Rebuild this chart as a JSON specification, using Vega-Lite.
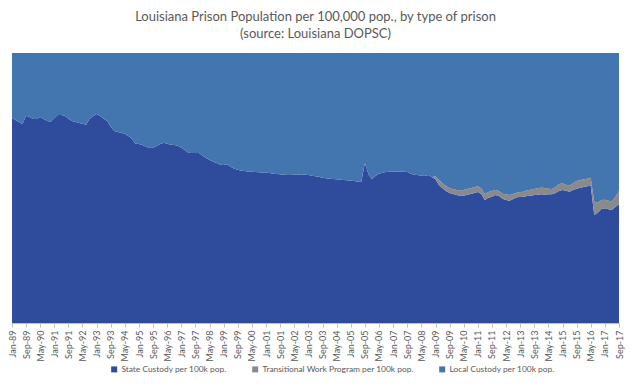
{
  "$schema": "https://vega.github.io/schema/vega-lite/v6.json",
  "autosize": "none",
  "width": 607,
  "height": 270,
  "padding": {"left": 12, "top": 53, "right": 11, "bottom": 62},
  "background": "white",
  "config": {"view": {"stroke": null}, "font": "Lato"},
  "title": {
    "text": ["Louisiana Prison Population per 100,000 pop., by type of prison", "(source: Louisiana DOPSC)"],
    "fontSize": 13,
    "fontWeight": "normal",
    "color": "#595959",
    "font": "Lato",
    "anchor": "middle",
    "lineHeight": 17,
    "offset": 12
  },
  "data": {"values": [
    {"d":"1989-01","a":615,"b":0,"c":195},{"d":"1989-03","a":609,"b":0,"c":201},{"d":"1989-05","a":603,"b":0,"c":207},{"d":"1989-07","a":597,"b":0,"c":213},{"d":"1989-09","a":622,"b":0,"c":188},{"d":"1989-11","a":618,"b":0,"c":192},
    {"d":"1990-01","a":612,"b":0,"c":198},{"d":"1990-03","a":612,"b":0,"c":198},{"d":"1990-05","a":618,"b":0,"c":192},{"d":"1990-07","a":612,"b":0,"c":198},{"d":"1990-09","a":606,"b":0,"c":204},{"d":"1990-11","a":604,"b":0,"c":206},
    {"d":"1991-01","a":615,"b":0,"c":195},{"d":"1991-03","a":624,"b":0,"c":186},{"d":"1991-05","a":624,"b":0,"c":186},{"d":"1991-07","a":622,"b":0,"c":188},{"d":"1991-09","a":613,"b":0,"c":197},{"d":"1991-11","a":606,"b":0,"c":204},
    {"d":"1992-01","a":603,"b":0,"c":207},{"d":"1992-03","a":600,"b":0,"c":210},{"d":"1992-05","a":598,"b":0,"c":212},{"d":"1992-07","a":595,"b":0,"c":215},{"d":"1992-09","a":613,"b":0,"c":197},{"d":"1992-11","a":621,"b":0,"c":189},
    {"d":"1993-01","a":627,"b":0,"c":183},{"d":"1993-03","a":621,"b":0,"c":189},{"d":"1993-05","a":613,"b":0,"c":197},{"d":"1993-07","a":606,"b":0,"c":204},{"d":"1993-09","a":588,"b":0,"c":222},{"d":"1993-11","a":576,"b":0,"c":234},
    {"d":"1994-01","a":573,"b":0,"c":237},{"d":"1994-03","a":571,"b":0,"c":239},{"d":"1994-05","a":567,"b":0,"c":243},{"d":"1994-07","a":561,"b":0,"c":249},{"d":"1994-09","a":552,"b":0,"c":258},{"d":"1994-11","a":538,"b":0,"c":272},
    {"d":"1995-01","a":537,"b":0,"c":273},{"d":"1995-03","a":534,"b":0,"c":276},{"d":"1995-05","a":529,"b":0,"c":281},{"d":"1995-07","a":525,"b":0,"c":285},{"d":"1995-09","a":526,"b":0,"c":284},{"d":"1995-11","a":531,"b":0,"c":279},
    {"d":"1996-01","a":537,"b":0,"c":273},{"d":"1996-03","a":541,"b":0,"c":269},{"d":"1996-05","a":538,"b":0,"c":272},{"d":"1996-07","a":535,"b":0,"c":275},{"d":"1996-09","a":534,"b":0,"c":276},{"d":"1996-11","a":532,"b":0,"c":278},
    {"d":"1997-01","a":526,"b":0,"c":284},{"d":"1997-03","a":519,"b":0,"c":291},{"d":"1997-05","a":511,"b":0,"c":299},{"d":"1997-07","a":510,"b":0,"c":300},{"d":"1997-09","a":510,"b":0,"c":300},{"d":"1997-11","a":510,"b":0,"c":300},
    {"d":"1998-01","a":502,"b":0,"c":308},{"d":"1998-03","a":495,"b":0,"c":315},{"d":"1998-05","a":489,"b":0,"c":321},{"d":"1998-07","a":484,"b":0,"c":326},{"d":"1998-09","a":480,"b":0,"c":330},{"d":"1998-11","a":475,"b":0,"c":335},
    {"d":"1999-01","a":474,"b":0,"c":336},{"d":"1999-03","a":476,"b":0,"c":334},{"d":"1999-05","a":469,"b":0,"c":341},{"d":"1999-07","a":463,"b":0,"c":347},{"d":"1999-09","a":460,"b":0,"c":350},{"d":"1999-11","a":457,"b":0,"c":353},
    {"d":"2000-01","a":456,"b":0,"c":354},{"d":"2000-03","a":454,"b":0,"c":356},{"d":"2000-05","a":454,"b":0,"c":356},{"d":"2000-07","a":453,"b":0,"c":357},{"d":"2000-09","a":452,"b":0,"c":358},{"d":"2000-11","a":451,"b":0,"c":359},
    {"d":"2001-01","a":451,"b":0,"c":359},{"d":"2001-03","a":450,"b":0,"c":360},{"d":"2001-05","a":448,"b":0,"c":362},{"d":"2001-07","a":447,"b":0,"c":363},{"d":"2001-09","a":446,"b":0,"c":364},{"d":"2001-11","a":445,"b":0,"c":365},
    {"d":"2002-01","a":444,"b":0,"c":366},{"d":"2002-03","a":444,"b":0,"c":366},{"d":"2002-05","a":445,"b":0,"c":365},{"d":"2002-07","a":445,"b":0,"c":365},{"d":"2002-09","a":446,"b":0,"c":364},{"d":"2002-11","a":445,"b":0,"c":365},
    {"d":"2003-01","a":444,"b":0,"c":366},{"d":"2003-03","a":442,"b":0,"c":368},{"d":"2003-05","a":440,"b":0,"c":370},{"d":"2003-07","a":439,"b":0,"c":371},{"d":"2003-09","a":436,"b":0,"c":374},{"d":"2003-11","a":434,"b":0,"c":376},
    {"d":"2004-01","a":433,"b":0,"c":377},{"d":"2004-03","a":432,"b":0,"c":378},{"d":"2004-05","a":431,"b":0,"c":379},{"d":"2004-07","a":430,"b":0,"c":380},{"d":"2004-09","a":429,"b":0,"c":381},{"d":"2004-11","a":428,"b":0,"c":382},
    {"d":"2005-01","a":427,"b":0,"c":383},{"d":"2005-03","a":426,"b":0,"c":384},{"d":"2005-05","a":424,"b":0,"c":386},{"d":"2005-07","a":424,"b":0,"c":386},{"d":"2005-09","a":480,"b":0,"c":330},{"d":"2005-11","a":447,"b":0,"c":363},
    {"d":"2006-01","a":431,"b":0,"c":379},{"d":"2006-03","a":441,"b":0,"c":369},{"d":"2006-05","a":448,"b":0,"c":362},{"d":"2006-07","a":451,"b":0,"c":359},{"d":"2006-09","a":453,"b":0,"c":357},{"d":"2006-11","a":454,"b":0,"c":356},
    {"d":"2007-01","a":454,"b":0,"c":356},{"d":"2007-03","a":454,"b":0,"c":356},{"d":"2007-05","a":454,"b":0,"c":356},{"d":"2007-07","a":454,"b":0,"c":356},{"d":"2007-09","a":453,"b":0,"c":357},{"d":"2007-11","a":448,"b":0,"c":362},
    {"d":"2008-01","a":445,"b":0,"c":365},{"d":"2008-03","a":444,"b":0,"c":366},{"d":"2008-05","a":442,"b":0,"c":368},{"d":"2008-07","a":441,"b":0,"c":369},{"d":"2008-09","a":444,"b":0,"c":366},{"d":"2008-11","a":437,"b":0,"c":373},
    {"d":"2009-01","a":431,"b":9,"c":370},{"d":"2009-03","a":414,"b":15,"c":381},{"d":"2009-05","a":404,"b":15,"c":391},{"d":"2009-07","a":396,"b":15,"c":399},{"d":"2009-09","a":390,"b":15,"c":405},{"d":"2009-11","a":387,"b":14,"c":409},
    {"d":"2010-01","a":384,"b":15,"c":411},{"d":"2010-03","a":381,"b":16,"c":413},{"d":"2010-05","a":382,"b":17,"c":411},{"d":"2010-07","a":385,"b":17,"c":408},{"d":"2010-09","a":387,"b":17,"c":406},{"d":"2010-11","a":390,"b":17,"c":403},
    {"d":"2011-01","a":393,"b":17,"c":400},{"d":"2011-03","a":387,"b":17,"c":406},{"d":"2011-05","a":369,"b":18,"c":423},{"d":"2011-07","a":376,"b":17,"c":417},{"d":"2011-09","a":379,"b":17,"c":414},{"d":"2011-11","a":384,"b":15,"c":411},
    {"d":"2012-01","a":381,"b":15,"c":414},{"d":"2012-03","a":373,"b":15,"c":422},{"d":"2012-05","a":369,"b":17,"c":424},{"d":"2012-07","a":367,"b":17,"c":426},{"d":"2012-09","a":372,"b":15,"c":423},{"d":"2012-11","a":377,"b":14,"c":419},
    {"d":"2013-01","a":378,"b":15,"c":417},{"d":"2013-03","a":379,"b":15,"c":416},{"d":"2013-05","a":381,"b":17,"c":412},{"d":"2013-07","a":382,"b":18,"c":410},{"d":"2013-09","a":384,"b":18,"c":408},{"d":"2013-11","a":385,"b":20,"c":405},
    {"d":"2014-01","a":386,"b":20,"c":404},{"d":"2014-03","a":385,"b":20,"c":405},{"d":"2014-05","a":386,"b":17,"c":407},{"d":"2014-07","a":386,"b":16,"c":408},{"d":"2014-09","a":390,"b":18,"c":402},{"d":"2014-11","a":396,"b":20,"c":394},
    {"d":"2015-01","a":399,"b":20,"c":391},{"d":"2015-03","a":397,"b":18,"c":395},{"d":"2015-05","a":394,"b":18,"c":398},{"d":"2015-07","a":399,"b":20,"c":391},{"d":"2015-09","a":403,"b":23,"c":384},{"d":"2015-11","a":406,"b":23,"c":381},
    {"d":"2016-01","a":408,"b":23,"c":379},{"d":"2016-03","a":410,"b":23,"c":377},{"d":"2016-05","a":412,"b":24,"c":374},{"d":"2016-07","a":324,"b":40,"c":446},{"d":"2016-09","a":331,"b":30,"c":449},{"d":"2016-11","a":342,"b":27,"c":441},
    {"d":"2017-01","a":344,"b":26,"c":440},{"d":"2017-03","a":341,"b":26,"c":443},{"d":"2017-05","a":339,"b":26,"c":445},{"d":"2017-07","a":348,"b":30,"c":432},{"d":"2017-09","a":357,"b":39,"c":414}
  ]},
  "transform": [{"fold": ["a", "b", "c"], "as": ["k", "v"]}],
  "mark": {"type": "area", "interpolate": "linear"},
  "encoding": {
    "x": {
      "field": "d", "type": "temporal",
      "scale": {"type": "utc", "nice": false, "domain": [{"year": 1989, "month": 1, "date": 1, "utc": true}, {"year": 2017, "month": 9, "date": 1, "utc": true}]},
      "axis": {
        "title": null,
        "format": "%b-%y",
        "labelAngle": -90,
        "labelFontSize": 9,
        "labelColor": "#595959",
        "labelFont": "Lato",
        "labelPadding": 3,
        "tickColor": "#bfbfbf",
        "tickSize": 4,
        "domainColor": "#bfbfbf",
        "grid": false,
        "labelOverlap": false,
        "labelBound": false,
        "labelFlush": false,
        "values": [
          {"year":1989,"month":1,"date":1,"utc":true},{"year":1989,"month":9,"date":1,"utc":true},{"year":1990,"month":5,"date":1,"utc":true},
          {"year":1991,"month":1,"date":1,"utc":true},{"year":1991,"month":9,"date":1,"utc":true},{"year":1992,"month":5,"date":1,"utc":true},
          {"year":1993,"month":1,"date":1,"utc":true},{"year":1993,"month":9,"date":1,"utc":true},{"year":1994,"month":5,"date":1,"utc":true},
          {"year":1995,"month":1,"date":1,"utc":true},{"year":1995,"month":9,"date":1,"utc":true},{"year":1996,"month":5,"date":1,"utc":true},
          {"year":1997,"month":1,"date":1,"utc":true},{"year":1997,"month":9,"date":1,"utc":true},{"year":1998,"month":5,"date":1,"utc":true},
          {"year":1999,"month":1,"date":1,"utc":true},{"year":1999,"month":9,"date":1,"utc":true},{"year":2000,"month":5,"date":1,"utc":true},
          {"year":2001,"month":1,"date":1,"utc":true},{"year":2001,"month":9,"date":1,"utc":true},{"year":2002,"month":5,"date":1,"utc":true},
          {"year":2003,"month":1,"date":1,"utc":true},{"year":2003,"month":9,"date":1,"utc":true},{"year":2004,"month":5,"date":1,"utc":true},
          {"year":2005,"month":1,"date":1,"utc":true},{"year":2005,"month":9,"date":1,"utc":true},{"year":2006,"month":5,"date":1,"utc":true},
          {"year":2007,"month":1,"date":1,"utc":true},{"year":2007,"month":9,"date":1,"utc":true},{"year":2008,"month":5,"date":1,"utc":true},
          {"year":2009,"month":1,"date":1,"utc":true},{"year":2009,"month":9,"date":1,"utc":true},{"year":2010,"month":5,"date":1,"utc":true},
          {"year":2011,"month":1,"date":1,"utc":true},{"year":2011,"month":9,"date":1,"utc":true},{"year":2012,"month":5,"date":1,"utc":true},
          {"year":2013,"month":1,"date":1,"utc":true},{"year":2013,"month":9,"date":1,"utc":true},{"year":2014,"month":5,"date":1,"utc":true},
          {"year":2015,"month":1,"date":1,"utc":true},{"year":2015,"month":9,"date":1,"utc":true},{"year":2016,"month":5,"date":1,"utc":true},
          {"year":2017,"month":1,"date":1,"utc":true},{"year":2017,"month":9,"date":1,"utc":true}
        ]
      }
    },
    "y": {"field": "v", "type": "quantitative", "stack": "normalize", "axis": null},
    "order": {"field": "k", "sort": "ascending"},
    "color": {
      "field": "k", "type": "nominal",
      "scale": {"domain": ["a", "b", "c"], "range": ["#2E4C9B", "#8A8A8A", "#4376AF"]},
      "legend": {
        "orient": "none",
        "legendX": 98,
        "legendY": 312,
        "direction": "horizontal",
        "title": null,
        "symbolType": "square",
        "symbolSize": 36,
        "symbolStrokeWidth": 0,
        "labelFontSize": 8.4,
        "labelColor": "#595959",
        "labelFont": "Lato",
        "columnPadding": 24,
        "labelOffset": 3,
        "labelLimit": 300,
        "labelExpr": "datum.label == 'a' ? 'State Custody per 100k pop.' : datum.label == 'b' ? 'Transitional Work Program per 100k pop.' : 'Local Custody per 100k pop.'"
      }
    }
  }
}
